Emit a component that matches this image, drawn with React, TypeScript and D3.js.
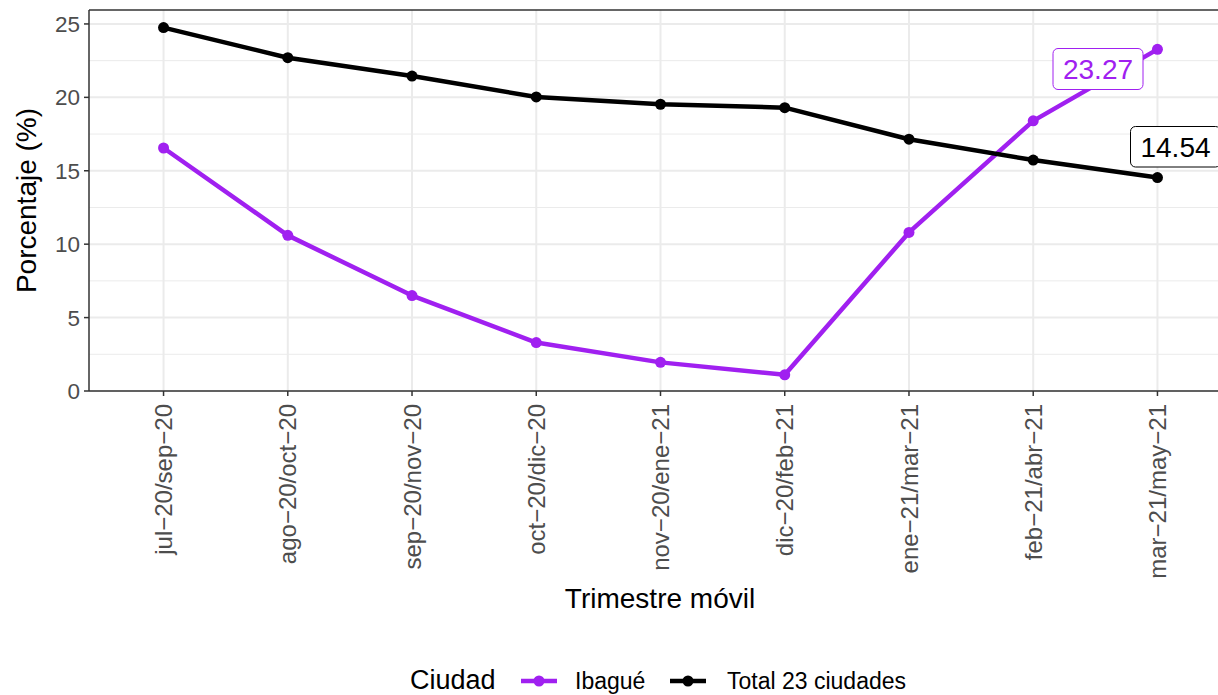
import React from "react";
import * as d3 from "d3";

const categories = [
  "jul−20/sep−20",
  "ago−20/oct−20",
  "sep−20/nov−20",
  "oct−20/dic−20",
  "nov−20/ene−21",
  "dic−20/feb−21",
  "ene−21/mar−21",
  "feb−21/abr−21",
  "mar−21/may−21",
];
const ibague = [16.55, 10.6, 6.5, 3.3, 1.95, 1.1, 10.8, 18.4, 23.27];
const total23 = [24.75, 22.7, 21.45, 20.03, 19.53, 19.3, 17.15, 15.73, 14.54];
const yTicks = [0, 5, 10, 15, 20, 25];
const yMinor = [2.5, 7.5, 12.5, 17.5, 22.5];

const series = [
  { name: "Ibagué", values: ibague, color: "#A020F0" },
  { name: "Total 23 ciudades", values: total23, color: "#000000" },
];

const W = 1218;
const H = 695;
const FONT = "Liberation Sans, Arial, Helvetica, sans-serif";

export default function App() {
  const panel = { left: 89, top: 10, right: 1232, bottom: 391 };
  const x = d3
    .scalePoint<string>()
    .domain(categories)
    .range([panel.left, panel.right])
    .padding(0.6);
  const y = d3.scaleLinear().domain([0, 25.95]).range([panel.bottom, panel.top]);
  const line = d3
    .line<number>()
    .x((_, i) => x(categories[i]) as number)
    .y((d) => y(d));

  const lastIdx = categories.length - 1;

  return (
    <svg width={W} height={H} style={{ position: "absolute", left: 0, top: 0 }} fontFamily={FONT}>
      <rect width={W} height={H} fill="white" />
      <defs>
        <clipPath id="pc">
          <rect x={panel.left} y={panel.top} width={panel.right - panel.left} height={panel.bottom - panel.top} />
        </clipPath>
      </defs>
      {/* grid */}
      {yMinor.map((v) => (
        <line key={"m" + v} x1={panel.left} x2={panel.right} y1={y(v)} y2={y(v)} stroke="#ebebeb" strokeWidth={1} />
      ))}
      {yTicks.map((v) => (
        <line key={"g" + v} x1={panel.left} x2={panel.right} y1={y(v)} y2={y(v)} stroke="#ebebeb" strokeWidth={2} />
      ))}
      {categories.map((c) => (
        <line key={"v" + c} x1={x(c)} x2={x(c)} y1={panel.top} y2={panel.bottom} stroke="#ebebeb" strokeWidth={2} />
      ))}
      {/* lines */}
      <g clipPath="url(#pc)">
        {series.map((s) => (
          <g key={s.name}>
            <path d={line(s.values) || ""} fill="none" stroke={s.color} strokeWidth={4.5} strokeLinejoin="round" />
            {s.values.map((v, i) => (
              <circle key={i} cx={x(categories[i])} cy={y(v)} r={5.5} fill={s.color} />
            ))}
          </g>
        ))}
      </g>
      {/* labels */}
      <g>
        <rect x={1053} y={48.5} width={90} height={41} rx={5} fill="white" stroke="#A020F0" strokeWidth={1} />
        <text x={1098} y={78.5} textAnchor="middle" fontSize={28} fill="#A020F0">
          {ibague[lastIdx].toFixed(2)}
        </text>
        <rect x={1130.5} y={126.5} width={90} height={40.5} rx={5} fill="white" stroke="#000" strokeWidth={1} />
        <text x={1175.5} y={156.5} textAnchor="middle" fontSize={28} fill="#000">
          {total23[lastIdx].toFixed(2)}
        </text>
      </g>
      {/* panel border */}
      <line x1={panel.left} x2={panel.right} y1={panel.top} y2={panel.top} stroke="#333" strokeWidth={1.5} />
      <line x1={panel.left} x2={panel.left} y1={panel.top} y2={panel.bottom} stroke="#333" strokeWidth={1.5} />
      <line x1={panel.left} x2={panel.right} y1={panel.bottom} y2={panel.bottom} stroke="#333" strokeWidth={1.5} />
      {/* y axis */}
      {yTicks.map((v) => (
        <g key={"yt" + v}>
          <line x1={panel.left - 5} x2={panel.left} y1={y(v)} y2={y(v)} stroke="#333" strokeWidth={1.5} />
          <text x={panel.left - 9} y={y(v)} dy="0.36em" textAnchor="end" fontSize={22.5} fill="#4d4d4d">
            {v}
          </text>
        </g>
      ))}
      {/* x axis */}
      {categories.map((c) => (
        <g key={"xt" + c}>
          <line x1={x(c)} x2={x(c)} y1={panel.bottom} y2={panel.bottom + 5} stroke="#333" strokeWidth={1.5} />
          <text
            transform={`translate(${x(c)},${panel.bottom + 13}) rotate(-90)`}
            textAnchor="end"
            dy="0.36em"
            fontSize={24}
            fill="#4d4d4d"
          >
            {c}
          </text>
        </g>
      ))}
      {/* axis titles */}
      <text x={660} y={608} textAnchor="middle" fontSize={28} fill="#000">
        Trimestre móvil
      </text>
      <text transform={`translate(36,${(panel.top + panel.bottom) / 2}) rotate(-90)`} textAnchor="middle" fontSize={28} fill="#000">
        Porcentaje (%)
      </text>
      {/* legend */}
      <text x={410} y={689} fontSize={27} fill="#000">Ciudad</text>
      <line x1={521} x2={557} y1={681} y2={681} stroke="#A020F0" strokeWidth={4.5} />
      <circle cx={539} cy={681} r={5.5} fill="#A020F0" />
      <text x={575} y={689} fontSize={23} fill="#000">Ibagué</text>
      <line x1={670} x2={706} y1={681} y2={681} stroke="#000" strokeWidth={4.5} />
      <circle cx={688} cy={681} r={5.5} fill="#000" />
      <text x={727} y={689} fontSize={23} fill="#000">Total 23 ciudades</text>
    </svg>
  );
}
